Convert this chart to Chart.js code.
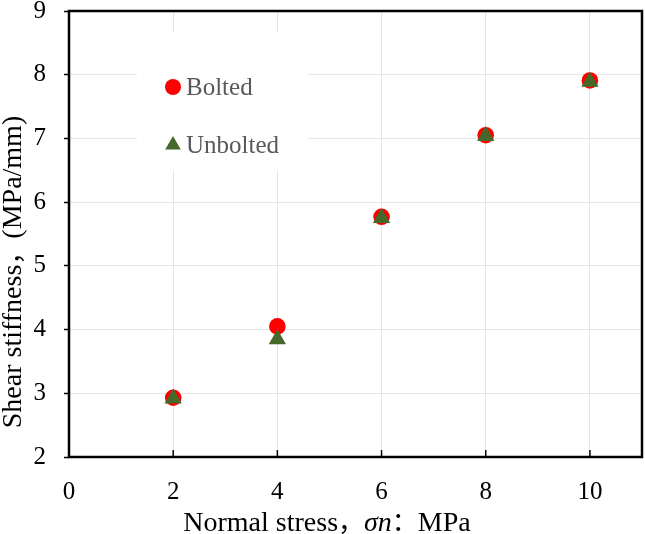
<!DOCTYPE html>
<html>
<head>
<meta charset="utf-8">
<script src="https://cdn.jsdelivr.net/npm/chart.js@4.4.1/dist/chart.umd.min.js"></script>
<style>
  html, body { margin: 0; padding: 0; background: #fff; }
  #wrap { width: 645px; height: 534px; }
</style>
</head>
<body>
<div id="wrap"><canvas id="chart" width="645" height="534"></canvas></div>
<script>
// data
const normalStress = [2, 4, 6, 8, 10];
const boltedStiffness = [2.93, 4.05, 5.77, 7.05, 7.91];
const unboltedStiffness = [2.92, 3.85, 5.75, 7.04, 7.89];
const xTickValues = [0, 2, 4, 6, 8, 10];
const yTickValues = [2, 3, 4, 5, 6, 7, 8, 9];
const seriesNames = ['Bolted', 'Unbolted'];

const SERIF = "'Liberation Serif', 'Times New Roman', 'Noto Serif', serif";
const CJK = "'Noto Sans CJK SC', sans-serif";

const toPoints = ys => normalStress.map((x, i) => ({ x, y: ys[i] }));

// frame, inner x ticks, legend box and axis titles
const decorations = {
    id: 'decorations',
    beforeDatasetsDraw(chart) {
        const { ctx } = chart;
        // white legend box sits over the grid
        ctx.save();
        ctx.fillStyle = '#fff';
        ctx.fillRect(137, 32, 171, 138);
        const rows = [87, 145];
        chart.data.datasets.forEach((ds, i) => {
            const y = rows[i];
            ctx.fillStyle = ds.backgroundColor;
            if (ds.pointStyle === 'triangle') {
                const r = 9;
                ctx.beginPath();
                ctx.moveTo(173, y - r);
                ctx.lineTo(173 + r * 0.866, y + r / 2);
                ctx.lineTo(173 - r * 0.866, y + r / 2);
                ctx.closePath();
                ctx.fill();
            } else {
                ctx.beginPath();
                ctx.arc(173, y, 8, 0, Math.PI * 2);
                ctx.fill();
            }
            ctx.fillStyle = '#595959';
            ctx.font = '25px ' + SERIF;
            ctx.textBaseline = 'middle';
            ctx.textAlign = 'left';
            ctx.fillText(ds.label, 186, y + 1);
        });
        ctx.restore();
    },
    afterDraw(chart) {
        const { ctx, chartArea: a } = chart;
        const xs = chart.scales.x;
        ctx.save();
        ctx.strokeStyle = '#000';
        // inward ticks on the x axis
        ctx.lineWidth = 1.5;
        xTickValues.forEach(v => {
            if (v === 0) return;
            const px = xs.getPixelForValue(v);
            ctx.beginPath();
            ctx.moveTo(px, a.bottom);
            ctx.lineTo(px, a.bottom - 7);
            ctx.stroke();
        });
        // plot frame
        ctx.lineWidth = 2.5;
        ctx.strokeRect(a.left, a.top, a.right - a.left, a.bottom - a.top);

        // x title with italic sigma n
        ctx.fillStyle = '#000';
        ctx.textBaseline = 'alphabetic';
        const parts = [
            ['Normal stress', '28px ' + SERIF],
            ['，', '26px ' + CJK],
            ['σn', 'italic 28px ' + SERIF],
            ['：', '26px ' + CJK],
            ['MPa', '28px ' + SERIF]
        ];
        let total = 0;
        parts.forEach(p => { ctx.font = p[1]; total += ctx.measureText(p[0]).width; });
        let x = 327 - total / 2;
        parts.forEach(p => {
            ctx.font = p[1];
            ctx.textAlign = 'left';
            ctx.fillText(p[0], x, 531);
            x += ctx.measureText(p[0]).width;
        });

        // y title
        ctx.translate(21, 272);
        ctx.rotate(-Math.PI / 2);
        const yparts = [
            ['Shear stiffness', '28px ' + SERIF],
            ['，', '26px ' + CJK],
            ['(MPa/mm)', '28px ' + SERIF]
        ];
        total = 0;
        yparts.forEach(p => { ctx.font = p[1]; total += ctx.measureText(p[0]).width; });
        x = -total / 2;
        yparts.forEach(p => {
            ctx.font = p[1];
            ctx.fillText(p[0], x, 0);
            x += ctx.measureText(p[0]).width;
        });
        ctx.restore();
    }
};

new Chart(document.getElementById('chart'), {
    type: 'scatter',
    data: {
        datasets: [
            {
                label: seriesNames[0],
                data: toPoints(boltedStiffness),
                pointStyle: 'circle',
                pointRadius: 8.3,
                pointHoverRadius: 8.3,
                backgroundColor: '#ff0000',
                borderColor: '#ff0000',
                borderWidth: 0,
                order: 2
            },
            {
                label: seriesNames[1],
                data: toPoints(unboltedStiffness),
                pointStyle: 'triangle',
                pointRadius: 10,
                pointHoverRadius: 10,
                backgroundColor: '#46692b',
                borderColor: '#46692b',
                borderWidth: 0,
                order: 1
            }
        ]
    },
    options: {
        responsive: false,
        animation: false,
        layout: { autoPadding: false, padding: { top: 11, right: 3, left: 0, bottom: 0 } },
        plugins: {
            legend: { display: false },
            tooltip: { enabled: false }
        },
        scales: {
            x: {
                type: 'linear',
                min: 0,
                max: 11,
                afterBuildTicks: s => { s.ticks = xTickValues.map(v => ({ value: v })); },
                afterFit: s => { s.height = 77; s.paddingLeft = 0; s.paddingRight = 0; },
                grid: { color: '#e6e6e6', lineWidth: 1, drawTicks: false },
                border: { display: false },
                ticks: {
                    color: '#000',
                    padding: 20,
                    font: { family: SERIF, size: 25 }
                }
            },
            y: {
                type: 'linear',
                min: 2,
                max: 9,
                afterBuildTicks: s => { s.ticks = yTickValues.map(v => ({ value: v })); },
                afterFit: s => { s.width = 69; s.paddingTop = 0; s.paddingBottom = 0; },
                grid: { color: '#e6e6e6', lineWidth: 1, drawTicks: true, tickLength: 5, tickColor: '#000', tickWidth: 1.5 },
                border: { display: false },
                ticks: {
                    color: '#000',
                    padding: 18,
                    font: { family: SERIF, size: 25 }
                }
            }
        }
    },
    plugins: [decorations]
});
</script>
</body>
</html>
